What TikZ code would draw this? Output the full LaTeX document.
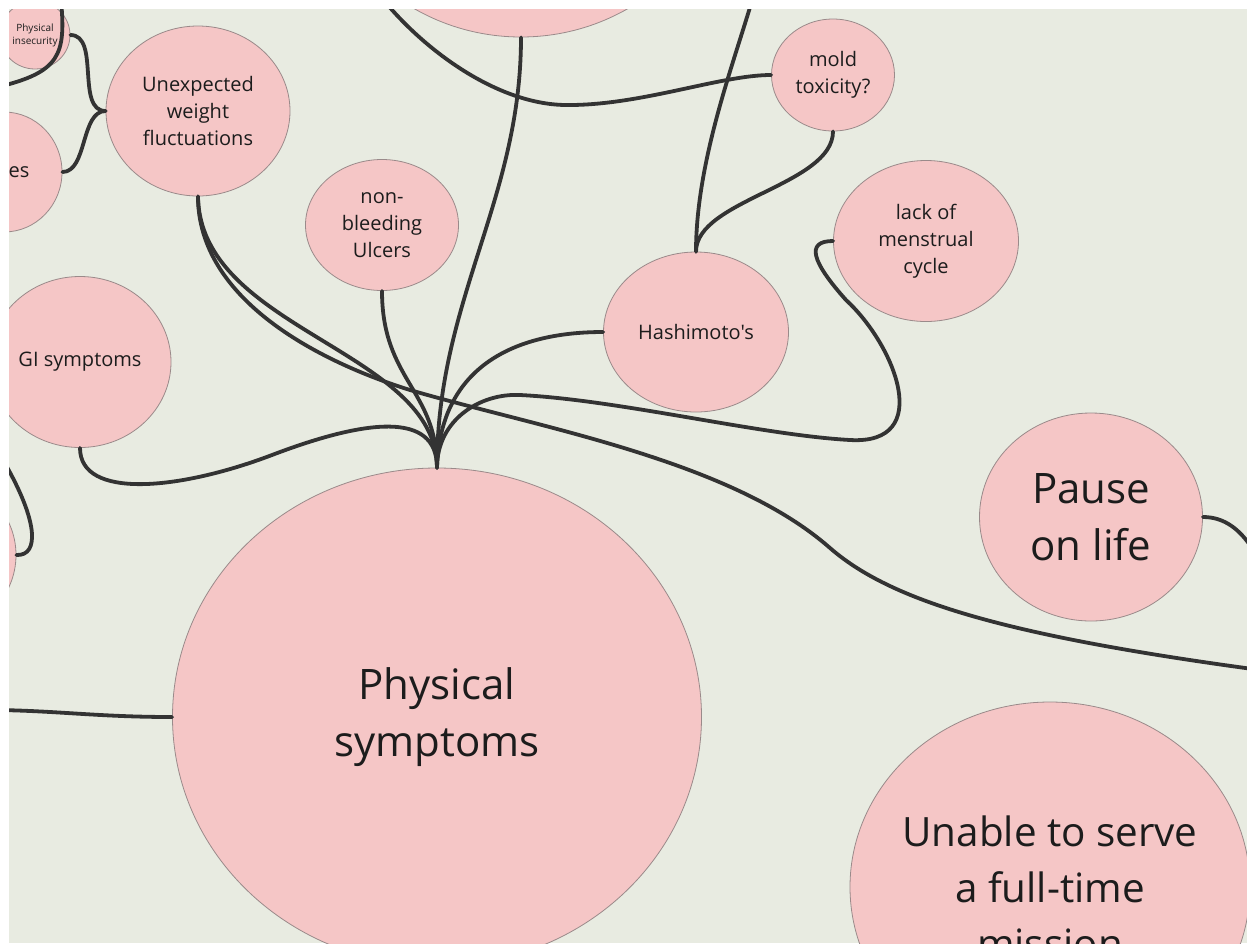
\documentclass[tikz,border=0pt]{standalone}
\usepackage{fontspec}
\setmainfont{Open Sans}[Ligatures=TeXOff]
\usetikzlibrary{shapes.geometric}

\definecolor{boardbg}{HTML}{E8EBE1}
\definecolor{bubblepink}{HTML}{F5C6C6}
\definecolor{bubbleedge}{HTML}{9A8A8A}
\definecolor{linkgray}{HTML}{333333}
\definecolor{inkdark}{HTML}{1C1C1C}

\begin{document}
\begin{tikzpicture}[x=0.5pt, y=-0.5pt,
    bubble/.style={ellipse, draw=bubbleedge, line width=0.4pt, fill=bubblepink, text=inkdark, align=center, inner sep=0pt},
    bigtext/.style={font=\fontsize{21}{28.5}\selectfont},
    smalltext/.style={font=\fontsize{10}{13.5}\selectfont},
    link/.style={draw=linkgray, line width=1.9pt, line cap=round}]
    \useasboundingbox (0,0) rectangle (1247,943);
    \fill[white] (0,0) rectangle (1247,943);
    \clip (9,9) rectangle (1247,943);
    \fill[boardbg] (9,9) rectangle (1247,943);

    % bubbles
    \node[bubble, minimum width=215pt, minimum height=215pt] (topnode) at (521,-178) {};
    \node[bubble, minimum width=76pt, minimum height=76pt] (lowleft) at (-60,555) {};
    \node[bubble, minimum width=35pt, minimum height=34pt, font=\fontsize{5}{6.5}\selectfont] (insecure) at (35,35) {Physical\\insecurity};
    \node[bubble, minimum width=58pt, minimum height=60pt, label={[smalltext, text=inkdark, xshift=7.5pt]center:es}] (leftes) at (4,172) {};
    \node[bubble, smalltext, minimum width=92pt, minimum height=85pt] (weight) at (198,111) {Unexpected\\weight\\fluctuations};
    \node[bubble, smalltext, minimum width=76.5pt, minimum height=65.5pt] (ulcer) at (382,225) {non-\\bleeding\\Ulcers};
    \node[bubble, smalltext, minimum width=91pt, minimum height=85.5pt] (gi) at (80,362) {GI symptoms};
    \node[bubble, smalltext, minimum width=92.5pt, minimum height=80pt] (hashi) at (696,332) {Hashimoto's};
    \node[bubble, smalltext, minimum width=61.5pt, minimum height=56pt] (mold) at (833,75) {mold\\toxicity?};
    \node[bubble, smalltext, minimum width=92.5pt, minimum height=80.5pt] (menses) at (926,241) {lack of\\menstrual\\cycle};
    \node[bubble, bigtext, minimum width=111.5pt, minimum height=104pt] (pause) at (1091,517) {Pause\\on life};
    \node[bubble, font=\fontsize{20.2}{28}\selectfont, minimum width=200pt, minimum height=185pt, inner xsep=-5pt] (mission) at (1050,887) {Unable to serve\\a full-time\\mission};
    \node[bubble, bigtext, minimum width=264.5pt, minimum height=249pt] (physical) at (437,717) {Physical\\symptoms};

    % loose ends
    \coordinate (cTopA) at (61,0);
    \coordinate (cLeftA) at (-2,87);
    \coordinate (cTopB) at (753,-3);
    \coordinate (cTopC) at (386,3);
    \coordinate (cLeftB) at (3,460);
    \coordinate (cLeftC) at (-2,710);
    \coordinate (cRightA) at (1252,548);
    \coordinate (cRightB) at (1260,670);

    % links
    \draw[link] (insecure.east) .. controls +(30,0) and +(-30,0) .. (weight.west);
    \draw[link] (leftes.east) .. controls +(25,0) and +(-25,0) .. (weight.west);
    \draw[link] (cTopA) .. controls (66,55) and (60,72) .. (cLeftA);
    \draw[link] (weight.south) .. controls (200,330) and (437,350) .. (physical.north);
    \draw[link] (weight.south) .. controls (198,300) and (320,362) .. (410,390)
        .. controls (540,428) and (730,460) .. (830,548)
        .. controls (890,600) and (1000,635) .. (cRightB);
    \draw[link] (ulcer.south) .. controls (382,380) and (437,390) .. (physical.north);
    \draw[link] (topnode.south) .. controls (521,200) and (437,300) .. (physical.north);
    \draw[link] (hashi.west) .. controls (510,332) and (440,370) .. (physical.north);
    \draw[link] (gi.south) .. controls (80,500) and (180,490) .. (272,455)
        .. controls (364,420) and (437,410) .. (physical.north);
    \draw[link] (menses.west) .. controls (805,241) and (812,262) .. (846,300)
        .. controls (895,345) and (935,445) .. (850,440)
        .. controls (760,435) and (620,400) .. (520,395)
        .. controls (480,393) and (437,420) .. (physical.north);
    \draw[link] (hashi.north) .. controls (696,200) and (833,185) .. (mold.south);
    \draw[link] (hashi.north) .. controls (696,160) and (735,60) .. (cTopB);
    \draw[link] (mold.west) .. controls (720,75) and (640,106) .. (565,105)
        .. controls (500,104) and (430,55) .. (cTopC);
    \draw[link] (physical.west) .. controls (100,717) and (60,711) .. (cLeftC);
    \draw[link] (pause.east) .. controls (1225,517) and (1240,530) .. (cRightA);
    \draw[link] (lowleft.east) .. controls (40,556) and (38,520) .. (cLeftB);
\end{tikzpicture}
\end{document}
